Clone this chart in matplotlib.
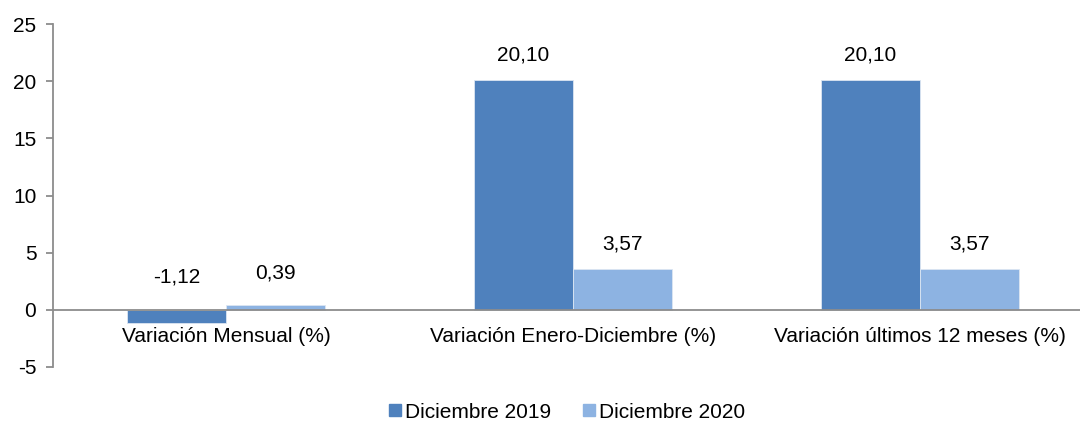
import matplotlib
matplotlib.use("Agg")
import matplotlib.pyplot as plt
import numpy as np
from matplotlib.lines import Line2D

plt.rcParams['font.family'] = ['Liberation Sans', 'DejaVu Sans']
plt.rcParams['axes.unicode_minus'] = False

# datos
categorias = ['Variación Mensual (%)', 'Variación Enero-Diciembre (%)', 'Variación últimos 12 meses (%)']
dic_2019 = [-1.12, 20.10, 20.10]
dic_2020 = [0.39, 3.57, 3.57]
series = ['Diciembre 2019', 'Diciembre 2020']
colores = ['#4F81BD', '#8DB3E2']

fig = plt.figure(figsize=(10.8, 4.25), dpi=100)
# area de grafico, se extiende un poco a la derecha igual que el original
ax = fig.add_axes([53/1080, 58/425, (1093-53)/1080, (367-24)/425])

x = np.arange(len(categorias))
ancho = 0.286
fs = 15

for k, (vals, col) in enumerate(zip([dic_2019, dic_2020], colores)):
    pos = x + (k - 0.5) * ancho
    ax.bar(pos, vals, ancho, color=col, edgecolor='#dce6f2', linewidth=0.6, zorder=2)
    for p, v in zip(pos, vals):
        txt = ('%.2f' % v).replace('.', ',')
        ax.annotate(txt, (p, max(v, 0)), xytext=(0, 18 if v >= 0.5 else 23.5),
                    textcoords='offset points', ha='center', va='center', fontsize=fs)

ax.axhline(0, color='#8c8c8c', linewidth=1.3, zorder=3)

ax.set_xlim(-0.5, 2.5)
ax.set_ylim(-5, 25)
ax.set_yticks(range(-5, 26, 5))
ax.set_xticks([])
for i, c in enumerate(categorias):
    ax.annotate(c, (i, 0), xytext=(0, -19), textcoords='offset points',
                ha='center', va='center', fontsize=fs)

for s in ['top', 'right', 'bottom']:
    ax.spines[s].set_visible(False)
ax.spines['left'].set_color('#8c8c8c')
ax.spines['left'].set_linewidth(1.3)
ax.tick_params(axis='y', length=5, width=1.3, color='#8c8c8c', labelsize=fs, pad=7)

handles = [Line2D([], [], marker='s', linestyle='', markersize=8, color=c) for c in colores]
fig.legend(handles, series, loc='center', bbox_to_anchor=(565/1080, 13/425), ncol=2,
           frameon=False, fontsize=fs, handletextpad=0.0, columnspacing=1.3, handlelength=1.0)

fig.savefig('out.png', dpi=100)
